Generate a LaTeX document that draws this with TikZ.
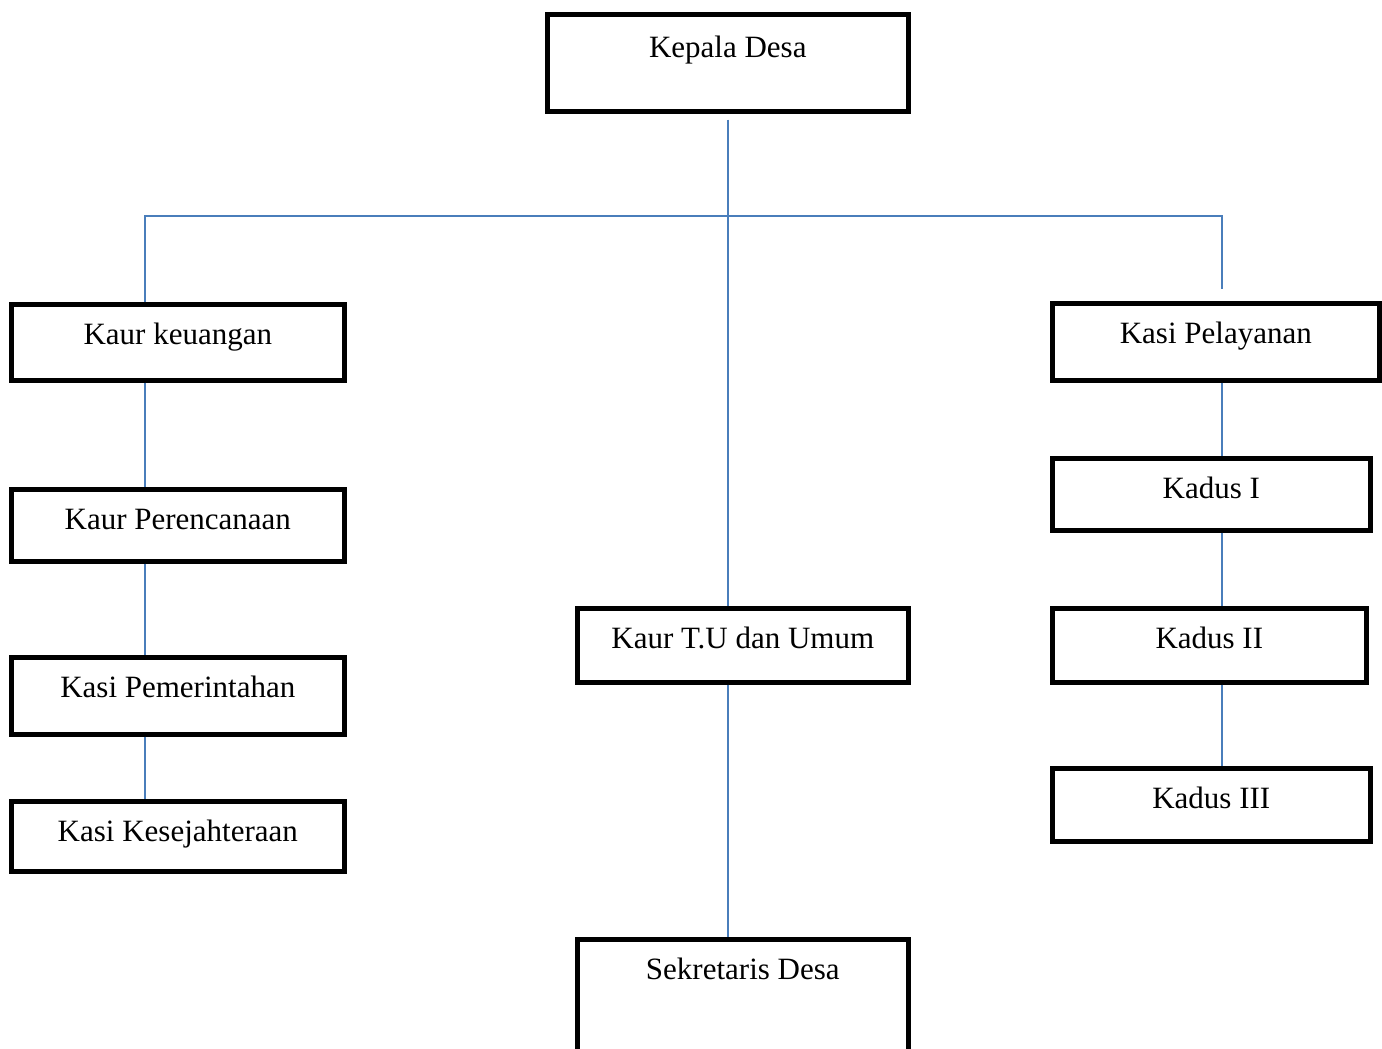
\documentclass[tikz,border=0pt]{standalone}
\usepackage{fontspec}
\setmainfont{Liberation Serif}
\usetikzlibrary{positioning,calc}
\definecolor{linkblue}{RGB}{74,126,187}

\begin{document}
\begin{tikzpicture}[x=0.5pt,y=-0.5pt,
    box/.style={draw, line width=2.3pt, inner sep=0pt, anchor=north west,
      minimum width=#1, text height=20pt, font=\fontsize{15.5}{18}\selectfont},
    link/.style={draw=linkblue, line width=1.1pt}]
  \clip (0,0) rectangle (1382,1049);

  \node [box=180.5pt, text height=21.5pt, text depth=27pt] (kepala) at (545,12) {Kepala Desa};

  \node [box=166.5pt, text depth=18pt] (keuangan) at (9,302) {Kaur keuangan};
  \node [box=166.5pt, text depth=16pt] (perencanaan) at (9,487) {Kaur Perencanaan};
  \node [box=166.5pt, text depth=18.5pt] (pemerintahan) at (9,655) {Kasi Pemerintahan};
  \node [box=166.5pt, text depth=15pt] (kesejahteraan) at (9,799) {Kasi Kesejahteraan};

  \node [box=165.5pt, text depth=17pt] (kaurtu) at (575,606) {Kaur T.U dan Umum};
  \node [box=165.5pt, text depth=45pt] (sekretaris) at (575,937) {Sekretaris Desa};

  \node [box=163.5pt, text depth=18.5pt] (pelayanan) at (1050,301) {Kasi Pelayanan};
  \node [box=159pt, text depth=16pt] (kadus1) at (1050,456) {Kadus I};
  \node [box=157pt, text depth=17pt] (kadus2) at (1050,606) {Kadus II};
  \node [box=159pt, text depth=16.5pt] (kadus3) at (1050,766) {Kadus III};

  \coordinate (busL) at (145,216);
  \coordinate (busR) at (1222,216);

  \draw [link] ([yshift=-3pt]kepala.south) -- (kepala.south |- kaurtu.north);
  \draw [link] (kepala.south |- kaurtu.south) -- (kepala.south |- sekretaris.north);
  \draw [link] (busL |- keuangan.north) -- (busL) -- (busR) -- ([yshift=6pt]busR |- pelayanan.north);

  \draw [link] (busL |- keuangan.south) -- (busL |- perencanaan.north);
  \draw [link] (busL |- perencanaan.south) -- (busL |- pemerintahan.north);
  \draw [link] (busL |- pemerintahan.south) -- (busL |- kesejahteraan.north);

  \draw [link] (busR |- pelayanan.south) -- (busR |- kadus1.north);
  \draw [link] (busR |- kadus1.south) -- (busR |- kadus2.north);
  \draw [link] (busR |- kadus2.south) -- (busR |- kadus3.north);

\end{tikzpicture}
\end{document}
